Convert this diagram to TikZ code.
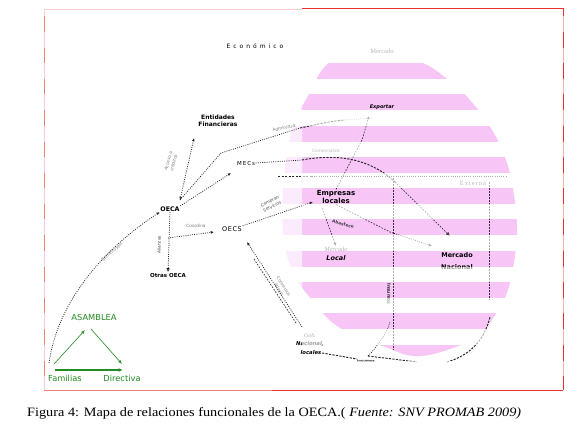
\documentclass[tikz,border=0pt]{standalone}
\usepackage{fontspec}
\setmainfont{Liberation Serif}
\newfontfamily\dv{DejaVu Sans}
\newfontfamily\lserif{Liberation Serif}
\usetikzlibrary{arrows.meta}
\definecolor{pinkband}{RGB}{247,198,247}
\definecolor{grn}{RGB}{34,139,34}
\definecolor{frred}{RGB}{232,48,48}
\definecolor{frpale}{RGB}{250,208,208}
\definecolor{frmid}{RGB}{238,128,128}
\begin{document}
\begin{tikzpicture}[x=1pt,y=-1pt,
  lbl/.style={font=\dv\fontsize{6.5}{7.5}\selectfont, inner sep=0.5pt, align=center},
  blbl/.style={font=\dv\bfseries\fontsize{6}{7.5}\selectfont, inner sep=0.5pt, align=center},
  tinylbl/.style={font=\dv\fontsize{4.3}{5.6}\selectfont, text=black!50, inner sep=0.3pt, align=center},
  serlbl/.style={font=\lserif\fontsize{6.5}{7.5}\selectfont, text=black!75, inner sep=0.5pt},
  glbl/.style={font=\dv\fontsize{8.3}{9}\selectfont, text=grn, inner sep=0.5pt},
  dotline/.style={dash pattern=on 0.9pt off 1.3pt, line width=0.75pt, black!85},
  dashline/.style={dash pattern=on 2.2pt off 1.3pt, line width=0.95pt, black!85},
  thindash/.style={dash pattern=on 1.6pt off 1.4pt, line width=0.7pt, black!80},
  arr/.style={-{Latex[length=3.2pt,width=2.8pt]}},
  openarr/.style={-{Latex[open,length=4pt,width=3.6pt]}},
  grnarrow/.style={grn, line width=0.6pt, -{Latex[length=4pt,width=3pt]}},
]
\useasboundingbox (0,0) rectangle (580,435);
\fill[white] (0,0) rectangle (580,435);

% striped pink shape
\begin{scope}
  \clip (302,0) rectangle (580,435);
  \clip plot[smooth cycle, tension=0.7] coordinates {(370,48) (420,62) (447,79) (470,100) (492,130) (506,160) (514,195) (517,229) (515,255) (508,290) (495,315) (478,336) (447,350) (415,356) (385,347) (340,328) (312,300) (292,270) (283,230) (284,180) (292,130) (308,96) (330,62)};
  \foreach \k in {2,...,11} \fill[pinkband] (270,{0.4+31.3*\k}) rectangle (530,{16.4+31.3*\k});
\end{scope}
\begin{scope}
  \clip (270,0) rectangle (302,435);
  \clip plot[smooth cycle, tension=0.7] coordinates {(370,48) (420,62) (447,79) (470,100) (492,130) (506,160) (514,195) (517,229) (515,255) (508,290) (495,315) (478,336) (447,350) (415,356) (385,347) (340,328) (312,300) (292,270) (283,230) (284,180) (292,130) (308,96) (330,62)};
  \foreach \k in {2,...,11} \fill[pinkband!35] (270,{0.4+31.3*\k}) rectangle (530,{16.4+31.3*\k});
\end{scope}

% frame
\draw[frpale, line width=0.8pt] (44,9) -- (302,9);
\draw[frred, line width=1pt] (302,9) -- (563,9) -- (563,390);
\draw[frmid, line width=0.9pt] (44,390) -- (272,390);
\draw[frred, line width=1pt] (272,390) -- (563,390);
\draw[frpale, line width=0.8pt] (44,9) -- (44,390);
\foreach \k in {0,...,11} \draw[frmid, line width=0.8pt] (44,{16.4+31.3*\k}) -- (44,{31.7+31.3*\k});

% nodes
\node[lbl, font=\dv\fontsize{6}{7}\selectfont] (econ) at (255,46) {E\hspace{3pt}c\hspace{3pt}o\hspace{3pt}n\hspace{3pt}ó\hspace{3pt}m\hspace{3pt}i\hspace{3pt}c\hspace{3pt}o};
\node[serlbl] (merctop) at (382,51) {Mercado};
\node[blbl, font=\dv\bfseries\itshape\fontsize{5}{6}\selectfont] (export) at (382,107) {Exportar};
\node[serlbl, font=\lserif\fontsize{6.5}{7.5}\selectfont] (externa) at (473,183) {E\hspace{1pt}x\hspace{1pt}t\hspace{1pt}e\hspace{1pt}r\hspace{1pt}n\hspace{1pt}a};
\node[blbl] (entid) at (218,121) {Entidades\\Financieras};
\node[lbl, font=\dv\fontsize{5.5}{6.5}\selectfont] (mecs) at (246,163) {M\hspace{1pt}E\hspace{1pt}C\hspace{1pt}s};
\node[blbl, font=\dv\bfseries\fontsize{6.3}{7.5}\selectfont] (oeca) at (170,209) {OECA};
\node[lbl] (oecs) at (232,229) {O\hspace{0.6pt}E\hspace{0.6pt}C\hspace{0.6pt}S};
\node[blbl, font=\dv\bfseries\fontsize{5.5}{6.5}\selectfont] (otras) at (168,275) {Otras OECA};
\node[glbl] (asam) at (94,317) {ASAMBLEA};
\node[glbl] (fam) at (65,378) {Familias};
\node[glbl] (dir) at (122,378) {Directiva};
\node[blbl, font=\dv\bfseries\fontsize{7}{8.5}\selectfont] (emp) at (336,197) {Empresas\\locales};
\node[serlbl, font=\lserif\itshape\fontsize{6.5}{7.5}\selectfont] (mloc1) at (336,249) {Mercado};
\node[blbl, font=\dv\bfseries\itshape\fontsize{6.5}{7.5}\selectfont] (mloc2) at (336,258) {Local};
\node[blbl, font=\dv\bfseries\fontsize{6.5}{7.5}\selectfont] (mnac1) at (457,255) {Mercado};
\node[blbl, font=\dv\bfseries\fontsize{6.5}{7.5}\selectfont] (mnac2) at (457,267) {Nacional};
\node[serlbl, font=\lserif\itshape\fontsize{6}{7}\selectfont] (gob1) at (310,335) {Gob.};
\node[blbl, font=\dv\bfseries\itshape\fontsize{5.3}{6}\selectfont] (gob2) at (310,344) {Nacional,};
\node[blbl, font=\dv\bfseries\itshape\fontsize{5.3}{6}\selectfont] (gob3) at (311,353) {locales};

% small labels
\node[tinylbl, rotate=40] (lconst) at (112,252) {Constituyen};
\node[tinylbl, rotate=74] (lacc) at (171,162) {Acceso a\\créditos};
\node[tinylbl, rotate=12] (ladm) at (284,128) {Administra};
\node[tinylbl, text=black!70] (lcom) at (326,151) {Comercializa};
\node[tinylbl] (lcoord) at (196,226) {Coordina};
\node[tinylbl, rotate=90, text=black!70] (lali) at (159,245) {Alianzas};
\node[tinylbl, rotate=25, text=black!70] (lcompr) at (271,204) {Compran\\Servicios};
\node[tinylbl, rotate=-15, text=black!75, font=\dv\bfseries\fontsize{4.3}{4.8}\selectfont] (labas) at (343,224) {Abastece};
\node[tinylbl, rotate=-58] (lconv) at (281,288) {Convenios\\Apoyo};
\node[tinylbl, rotate=-90, text=black!85, font=\dv\bfseries\fontsize{4.5}{5}\selectfont] (lins) at (389,294) {Insumos};
\node[tinylbl, text=black!85, font=\dv\bfseries\fontsize{3.8}{4.5}\selectfont] (lins2) at (366,361) {insumos};

% coordinates for free ends
\coordinate (famtop) at (49,363);
\coordinate (entin) at (194,138);
\coordinate (oecatop) at (180,200);
\coordinate (mecsin) at (231,173);
\coordinate (bend1) at (221,153);
\coordinate (adm1) at (300,128);
\coordinate (adm2) at (345,120);
\coordinate (adm3) at (372,118);
\coordinate (exptop) at (369,116);
\coordinate (mecs1) at (302,160);
\coordinate (mecs2) at (395,182);
\coordinate (mnacin) at (450,236);
\coordinate (h1) at (278,176);
\coordinate (h2) at (312,176);
\coordinate (h3) at (507,176);
\coordinate (v1a) at (393,178);
\coordinate (v1b) at (393,350);
\coordinate (v2a) at (489,182);
\coordinate (v2b) at (489,300);
\coordinate (br) at (168,238);
\coordinate (oecsin) at (214,232);
\coordinate (empin) at (313,202);
\coordinate (empsw) at (322,208);
\coordinate (ab1) at (390,232);
\coordinate (mnacin2) at (432,246);
\coordinate (oecsb) at (247,242);
\coordinate (gobtop) at (302,327);
\coordinate (gob2a) at (296,323);
\coordinate (gob2b) at (254,259);
\coordinate (b1) at (357,359);
\coordinate (b2) at (368,356);
\coordinate (b3) at (417,362);
\coordinate (b4) at (447,362);
\coordinate (b5) at (490,317);
\coordinate (b6) at (390,322);
\coordinate (g1) at (54,364);
\coordinate (g2) at (85,330);
\coordinate (g3) at (91,329);
\coordinate (g4) at (122,364);
\coordinate (g5) at (55,370);
\coordinate (g6) at (123,370);

% connectors
\draw[dotline, arr] (famtop) .. controls (58,300) and (105,248) .. (oeca.south west);
\draw[dotline, {Latex[length=3.2pt,width=2.8pt]}-{Latex[length=3.2pt,width=2.8pt]}] (oecatop) -- (entin);
\draw[dotline, arr] (oeca.north east) -- (mecsin);
\draw[dotline] (oecatop) -- (bend1) -- (adm1);
\draw[dashline] (adm1) .. controls (315,125) and (330,121) .. (adm2);
\draw[dotline, black!40] (adm2) -- (adm3);
\draw[thindash, arr] (emp.north) -- (362,140) -- (exptop);
\draw[dotline] (mecs.east) -- (mecs1);
\draw[dashline] (mecs1) .. controls (345,152) and (375,163) .. (mecs2);
\draw[thindash, openarr] (mecs2) -- (mnacin);
\draw[dashline] (h1) -- (h2);
\draw[dotline] (h2) -- (h3);
\draw[thindash] (v1a) -- (v1b);
\draw[thindash] (v2a) -- (v2b);
\draw[dotline, openarr] (oeca.south) -- (otras.north);
\draw[dotline, arr] (br) -- (oecsin);
\draw[dotline, arr] (oecs.north east) -- (empin);
\draw[thindash, arr] (empsw) -- (mloc1.north);
\draw[thindash] (emp.south) -- (ab1);
\draw[dotline, arr] (ab1) -- (mnacin2);
\draw[dotline, arr] (gobtop) -- (oecsb);
\draw[thindash] (gob2a) -- (gob2b);
\draw[dashline] (gob3.east) -- (b1);
\draw[dotline] (b2) .. controls (374,350) and (386,336) .. (b6);
\draw[dashline] (b2) -- (b3);
\draw[dashline] (b4) .. controls (468,356) and (484,342) .. (b5);

% green triangle
\draw[grnarrow] (g1) -- (g2);
\draw[grnarrow] (g3) -- (g4);
\draw[grn, line width=1.3pt, -{Latex[length=4.5pt,width=3.8pt]}] (g5) -- (g6);

% wash of white stripes on the right
\foreach \k in {0,...,11} \fill[white, opacity=0.62] (302,{16.4+31.3*\k}) rectangle (572,{31.7+31.3*\k});

% caption
\node[inner sep=0pt, anchor=west] (cap) at (27,413) {\resizebox{494pt}{9pt}{\lserif\fontsize{12}{14}\selectfont Figura 4: Mapa de relaciones funcionales de la OECA.( \textit{Fuente: SNV PROMAB 2009)}}};
\end{tikzpicture}
\end{document}
